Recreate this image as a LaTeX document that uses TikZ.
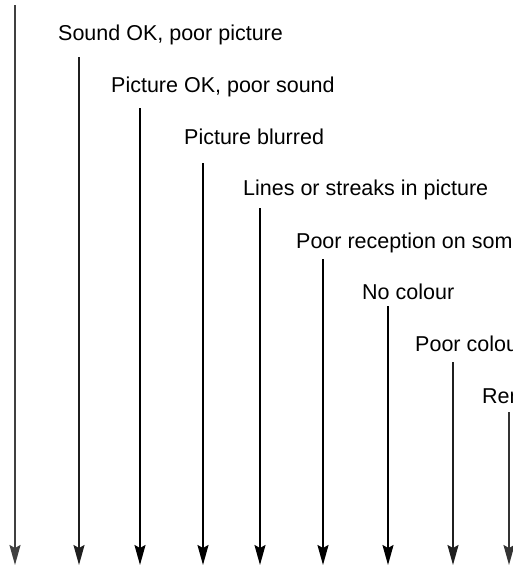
\documentclass[tikz,border=0pt]{standalone}
\usepackage{fontspec}
\setmainfont{Liberation Sans}
\usetikzlibrary{arrows.meta}

\tikzset{
    fault/.style={anchor=base west, inner sep=0pt, font=\fontsize{21.5}{24}\selectfont},
    drop/.style={line width=1.8pt, -{Stealth[length=20pt, width=11pt, inset=3pt]}}
}

\begin{document}
\begin{tikzpicture}[x=1pt, y=-1pt]
    \useasboundingbox (0,0) rectangle (513,570);
    \clip (0,0) rectangle (513,570);

    % Labels
    \node[fault] (soundok) at (58,40.5) {Sound OK, poor picture};
    \node[fault] (pictureok) at (111,92) {Picture OK, poor sound};
    \node[fault] (blurred) at (184,144) {Picture blurred};
    \node[fault] (streaks) at (243,195.5) {Lines or streaks in picture};
    \node[fault] (reception) at (296,248) {Poor reception on some channels};
    \node[fault] (nocolour) at (362,299.5) {No colour};
    \node[fault] (poorcolour) at (415,351.5) {Poor colour};
    \node[fault] (remote) at (482,403) {Remote control};

    % Arrow ends
    \coordinate (top1) at (15,5);    \coordinate (bot1) at (15,565);
    \coordinate (top2) at (79,57);   \coordinate (bot2) at (79,565);
    \coordinate (top3) at (140,108); \coordinate (bot3) at (140,565);
    \coordinate (top4) at (203,163); \coordinate (bot4) at (203,565);
    \coordinate (top5) at (260,208); \coordinate (bot5) at (260,565);
    \coordinate (top6) at (323,259); \coordinate (bot6) at (323,565);
    \coordinate (top7) at (388,306); \coordinate (bot7) at (388,565);
    \coordinate (top8) at (453,362); \coordinate (bot8) at (453,565);
    \coordinate (top9) at (509,412); \coordinate (bot9) at (509,565);

    % Arrows
    \draw[drop, black!75] (top1) -- (bot1);
    \draw[drop, black!88] (top2) -- (bot2);
    \draw[drop] (top3) -- (bot3);
    \draw[drop] (top4) -- (bot4);
    \draw[drop] (top5) -- (bot5);
    \draw[drop] (top6) -- (bot6);
    \draw[drop] (top7) -- (bot7);
    \draw[drop, black!88] (top8) -- (bot8);
    \draw[drop, black!80] (top9) -- (bot9);
\end{tikzpicture}
\end{document}
